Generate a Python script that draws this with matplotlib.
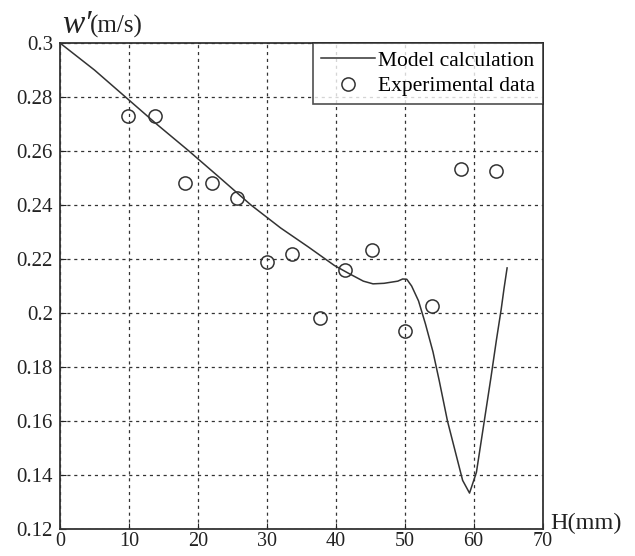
import numpy as np
import matplotlib.pyplot as plt

plt.rcParams['font.family'] = ['Liberation Serif', 'DejaVu Serif']

# model calculation curve
model_h = [0, 5, 9.5, 14, 18.7, 23, 27.7, 32, 36, 39.8, 42, 44, 45.4, 47, 49, 49.7,
           50.3, 51, 52, 53, 54.1, 55, 56.2, 57.5, 58.4, 59.4, 60.4, 61.6, 62.5,
           63.3, 64, 64.4, 64.85]
model_w = [0.3, 0.29, 0.28, 0.27, 0.26, 0.2505, 0.24, 0.2315, 0.2245, 0.2176, 0.2145,
           0.2118, 0.2108, 0.2110, 0.2118, 0.2126, 0.2125, 0.210, 0.2045, 0.196,
           0.1856, 0.175, 0.160, 0.147, 0.138, 0.1333, 0.141, 0.161, 0.176, 0.190,
           0.2015, 0.209, 0.2167]

# experimental points
exp_h = [9.8, 13.8, 18.1, 22.0, 25.6, 30.0, 33.7, 37.7, 41.4, 45.3, 50.1, 53.9, 58.1, 63.2]
exp_w = [0.273, 0.273, 0.248, 0.248, 0.2425, 0.219, 0.222, 0.198, 0.216, 0.2235,
         0.1935, 0.2025, 0.2535, 0.2525]

xticks = [0, 10, 20, 30, 40, 50, 60, 70]
yticks = [0.12, 0.14, 0.16, 0.18, 0.2, 0.22, 0.24, 0.26, 0.28, 0.3]
ytick_labels = ['0.12', '0.14', '0.16', '0.18', '0.2', '0.22', '0.24', '0.26', '0.28', '0.3']

fig = plt.figure(figsize=(6.35, 5.56), dpi=100)
ax = fig.add_axes([0.0945, 0.0486, 0.760, 0.874])

ax.plot(model_h, model_w, color='#333333', lw=1.1, label='Model calculation')
ax.plot(exp_h, exp_w, 'o', mfc='none', mec='#333333', mew=1.1, ms=9.5,
        label='Experimental data')

ax.set_xlim(0, 70)
ax.set_ylim(0.12, 0.3)
ax.set_xticks(xticks)
ax.set_yticks(yticks)
ax.set_yticklabels(ytick_labels)
ax.tick_params(direction='in', length=4, labelsize=15, colors='#222222')
ax.tick_params(axis='y', pad=5)
ax.tick_params(axis='x', pad=2, labelsize=14.5)
ax.grid(True, color='#333333', linestyle=(0, (2.5, 3)), linewidth=0.9)
for s in ax.spines.values():
    s.set_linewidth(1.3)
    s.set_color('#333333')

leg = ax.legend(loc='upper right', fontsize=15.5, frameon=True, fancybox=False,
                handlelength=2.5, handletextpad=0.15, borderpad=0.35,
                labelspacing=0.25, borderaxespad=0)
leg.get_frame().set_edgecolor('#222222')
leg.get_frame().set_linewidth(1.2)

fig.text(62 / 635, 1 - 33 / 556, "w\u2032", fontsize=24, style='italic', ha='left',
         va='baseline', color='#222222')
fig.text(90 / 635, 1 - 33 / 556, "(m/s)", fontsize=18, ha='left', va='baseline',
         color='#222222')
ax.text(1.015, 0.0, "H(mm)", transform=ax.transAxes, fontsize=17.5, ha='left',
        va='baseline', color='#222222')

fig.savefig('out.png', dpi=100)
